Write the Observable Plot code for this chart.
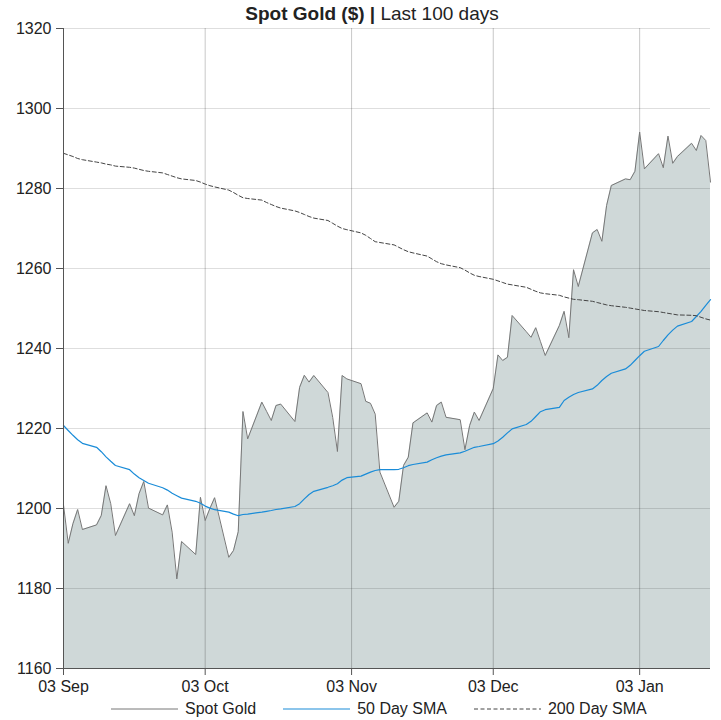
<!DOCTYPE html>
<html>
<head>
<meta charset="utf-8">
<script src="https://cdn.jsdelivr.net/npm/d3@7"></script>
<script src="https://cdn.jsdelivr.net/npm/@observablehq/plot@0.6"></script>
<style>
  html, body { margin: 0; padding: 0; background: #fff; }
  #wrap { position: relative; width: 721px; height: 720px; font-family: "Liberation Sans", Arial, sans-serif; color: #222; }
  #title { position: absolute; left: 0; top: 4px; width: 744px; text-align: center; font-size: 19px; line-height: 19px; white-space: nowrap; }
  #legend { position: absolute; left: 111px; top: 700px; display: flex; align-items: center; font-size: 16px; line-height: 18px; white-space: nowrap; }
  #legend .item { display: flex; align-items: center; margin-right: 27px; }
  #legend svg { margin-right: 7px; }
  #chart { position: absolute; left: 0; top: 0; }
</style>
</head>
<body>
<div id="wrap">
  <div id="chart"></div>
  <div id="title"><b>Spot Gold ($) |</b> Last 100 days</div>
  <div id="legend"></div>
</div>
<script>
const dates = [
  "2018-09-03","2018-09-04","2018-09-05","2018-09-06","2018-09-07",
  "2018-09-10","2018-09-11","2018-09-12","2018-09-13","2018-09-14",
  "2018-09-17","2018-09-18","2018-09-19","2018-09-20","2018-09-21",
  "2018-09-24","2018-09-25","2018-09-26","2018-09-27","2018-09-28",
  "2018-10-01","2018-10-02","2018-10-03","2018-10-04","2018-10-05",
  "2018-10-08","2018-10-09","2018-10-10","2018-10-11","2018-10-12",
  "2018-10-15","2018-10-16","2018-10-17","2018-10-18","2018-10-19",
  "2018-10-22","2018-10-23","2018-10-24","2018-10-25","2018-10-26",
  "2018-10-29","2018-10-30","2018-10-31","2018-11-01","2018-11-02",
  "2018-11-05","2018-11-06","2018-11-07","2018-11-08","2018-11-09",
  "2018-11-12","2018-11-13","2018-11-14","2018-11-15","2018-11-16",
  "2018-11-19","2018-11-20","2018-11-21","2018-11-22","2018-11-23",
  "2018-11-26","2018-11-27","2018-11-28","2018-11-29","2018-11-30",
  "2018-12-03","2018-12-04","2018-12-05","2018-12-06","2018-12-07",
  "2018-12-10","2018-12-11","2018-12-12","2018-12-13","2018-12-14",
  "2018-12-17","2018-12-18","2018-12-19","2018-12-20","2018-12-21",
  "2018-12-24","2018-12-25","2018-12-26","2018-12-27","2018-12-28",
  "2018-12-31","2019-01-01","2019-01-02","2019-01-03","2019-01-04",
  "2019-01-07","2019-01-08","2019-01-09","2019-01-10","2019-01-11",
  "2019-01-14","2019-01-15","2019-01-16","2019-01-17","2019-01-18"
];

const spotGold = [
  1200.9, 1191.3, 1196.2, 1199.75, 1194.75,
  1195.9, 1198.25, 1205.7, 1201.2, 1193.25,
  1201.2, 1198.2, 1203.7, 1206.75, 1200.1,
  1198.4, 1200.9, 1194.1, 1182.4, 1191.75,
  1188.5, 1202.8, 1197.0, 1200.0, 1202.7,
  1187.8, 1189.5, 1194.2, 1224.25, 1217.4,
  1226.6, 1224.3, 1222.0, 1225.75, 1226.1,
  1221.75, 1230.3, 1233.3, 1231.6, 1233.25,
  1229.0, 1222.8, 1214.25, 1233.25, 1232.4,
  1231.2, 1226.8, 1226.3, 1223.6, 1209.1,
  1200.3, 1201.8, 1210.75, 1212.8, 1221.4,
  1223.9, 1221.6, 1225.75, 1226.6, 1222.8,
  1222.2, 1214.7, 1220.75, 1224.1, 1222.0,
  1230.0, 1238.4, 1237.0, 1237.8, 1248.25,
  1244.2, 1242.8, 1245.2, 1241.7, 1238.25,
  1245.75, 1249.3, 1242.7, 1259.7, 1255.5,
  1268.9, 1269.75, 1266.8, 1275.75, 1280.75,
  1282.4, 1282.2, 1284.3, 1294.1, 1284.9,
  1288.7, 1285.2, 1293.1, 1286.3, 1288.0,
  1291.3, 1289.5, 1293.25, 1292.0, 1281.6
];

const sma50 = [
  1220.75, 1219.5, 1218.3, 1217.2, 1216.3,
  1215.3, 1214.2, 1212.9, 1211.8, 1210.75,
  1209.7, 1208.6, 1207.7, 1207.0, 1206.3,
  1205.2, 1204.6, 1203.8, 1203.2, 1202.6,
  1201.8, 1201.3, 1200.6, 1200.1, 1199.7,
  1199.1, 1198.6, 1198.2, 1198.5, 1198.6,
  1199.1, 1199.3, 1199.5, 1199.75, 1199.9,
  1200.5, 1201.2, 1202.4, 1203.5, 1204.3,
  1205.3, 1205.7, 1206.2, 1207.1, 1207.7,
  1208.1, 1208.6, 1209.1, 1209.5, 1209.7,
  1209.7, 1209.8, 1210.2, 1210.7, 1211.0,
  1211.6, 1212.2, 1212.7, 1213.1, 1213.4,
  1213.9, 1214.3, 1214.8, 1215.3, 1215.5,
  1216.2, 1216.9, 1217.8, 1218.9, 1219.9,
  1221.0, 1221.8, 1223.0, 1224.2, 1224.7,
  1225.3, 1227.0, 1227.8, 1228.5, 1229.0,
  1229.9, 1230.8, 1232.0, 1233.0, 1233.8,
  1234.9, 1235.8, 1237.0, 1238.2, 1239.3,
  1240.5, 1242.0, 1243.4, 1244.6, 1245.6,
  1246.75, 1248.0, 1249.3, 1250.8, 1252.2
];

const sma200 = [
  1288.8, 1288.4, 1288.0, 1287.5, 1287.2,
  1286.6, 1286.4, 1286.1, 1285.9, 1285.6,
  1285.3, 1285.1, 1284.8, 1284.5, 1284.3,
  1283.9, 1283.5, 1283.1, 1282.7, 1282.4,
  1282.0, 1281.6, 1281.1, 1280.7, 1280.4,
  1279.6, 1279.0, 1278.3, 1277.7, 1277.5,
  1277.1, 1276.5, 1276.0, 1275.5, 1275.1,
  1274.4, 1274.0, 1273.5, 1273.0, 1272.6,
  1272.0, 1271.3, 1270.6, 1270.0, 1269.7,
  1268.9, 1268.3, 1267.5, 1266.7, 1266.5,
  1265.9, 1265.3, 1264.7, 1264.2, 1263.9,
  1263.1, 1262.4, 1261.7, 1261.2, 1260.9,
  1260.2, 1259.6, 1258.9, 1258.3, 1258.0,
  1257.3, 1256.9, 1256.5, 1256.1, 1255.9,
  1255.3, 1254.8, 1254.3, 1253.9, 1253.7,
  1253.3, 1252.9, 1252.6, 1252.3, 1252.2,
  1251.8, 1251.5, 1251.2, 1250.9, 1250.7,
  1250.3, 1250.1, 1249.9, 1249.7, 1249.5,
  1249.2, 1249.0, 1248.8, 1248.6, 1248.4,
  1248.3, 1248.2, 1247.8, 1247.4, 1247.1
];

const yTicks = [1160, 1180, 1200, 1220, 1240, 1260, 1280, 1300, 1320];
const xTickDates = ["2018-09-03", "2018-10-03", "2018-11-03", "2018-12-03", "2019-01-03"];
const seriesNames = ["Spot Gold", "50 Day SMA", "200 Day SMA"];

const data = dates.map((d, i) => ({
  date: new Date(d + "T00:00:00Z"),
  gold: spotGold[i],
  sma50: sma50[i],
  sma200: sma200[i]
}));
const xTicks = xTickDates.map(d => new Date(d + "T00:00:00Z"));
const yMin = yTicks[0], yMax = yTicks[yTicks.length - 1];

const fmt = d3.utcFormat("%d %b");

const chart = Plot.plot({
  width: 721,
  height: 700,
  marginTop: 28,
  marginRight: 11,
  marginBottom: 32,
  marginLeft: 63,
  style: { fontFamily: "'Liberation Sans', Arial, sans-serif", fontSize: "16px", color: "#222", background: "transparent" },
  x: { type: "utc", domain: [data[0].date, data[data.length - 1].date] },
  y: { domain: [yMin, yMax] },
  marks: [
    Plot.areaY(data, { x: "date", y1: yMin, y2: "gold", fill: "#cfd8d8" }),
    Plot.ruleY(yTicks, { stroke: "#000", strokeOpacity: 0.13 }),
    Plot.ruleX(xTicks, { stroke: "#000", strokeOpacity: 0.22 }),
    Plot.lineY(data, { x: "date", y: "gold", stroke: "#777", strokeWidth: 1 }),
    Plot.lineY(data, { x: "date", y: "sma50", stroke: "#1a8cd8", strokeWidth: 1.2 }),
    Plot.lineY(data, { x: "date", y: "sma200", stroke: "#444", strokeWidth: 1, strokeDasharray: "4,2.5" }),
    Plot.axisY({ ticks: yTicks, tickSize: 7, tickPadding: 5, label: null, tickFormat: d => String(d), stroke: "#555" }),
    Plot.axisX({ ticks: xTicks, tickSize: 7, tickPadding: 5, label: null, tickFormat: fmt, stroke: "#555" }),
    Plot.ruleX([data[0].date], { stroke: "#555" }),
    Plot.ruleY([yMin], { stroke: "#555" })
  ]
});
document.getElementById("chart").appendChild(chart);

// Legend
const legendStyles = [
  { stroke: "#777", dash: null, width: 1 },
  { stroke: "#1a8cd8", dash: null, width: 1.2 },
  { stroke: "#444", dash: "4,2.5", width: 1 }
];
const legend = document.getElementById("legend");
seriesNames.forEach((name, i) => {
  const item = document.createElement("div");
  item.className = "item";
  const st = legendStyles[i];
  item.innerHTML = `<svg width="67" height="4"><line x1="0" x2="67" y1="2" y2="2" stroke="${st.stroke}" stroke-width="${st.width}" ${st.dash ? `stroke-dasharray="${st.dash}"` : ""}/></svg><span>${name}</span>`;
  legend.appendChild(item);
});
</script>
</body>
</html>
